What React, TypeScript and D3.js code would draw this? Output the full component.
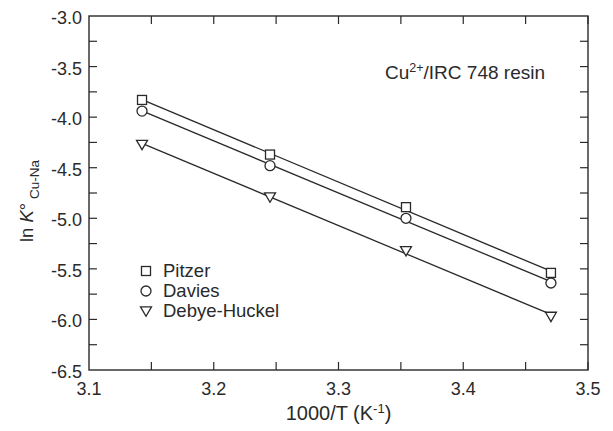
import React from "react";
import * as d3 from "d3";

const xValues = [3.1425, 3.2451, 3.3541, 3.4703];
const pitzer = [-3.83, -4.37, -4.89, -5.54];
const davies = [-3.94, -4.48, -5.0, -5.64];
const debyeHuckel = [-4.27, -4.79, -5.32, -5.97];
const seriesNames = ["Pitzer", "Davies", "Debye-Huckel"];
const xTickLabels = [3.1, 3.2, 3.3, 3.4, 3.5];
const yTickLabels = [-3.0, -3.5, -4.0, -4.5, -5.0, -5.5, -6.0, -6.5];

const W = 613, H = 431;
const M = { left: 89, right: 588, top: 16, bottom: 370 };
const FONT = "'Liberation Sans', Arial, Helvetica, sans-serif";
const INK = "#2a2a2a";

function fit(xs: number[], ys: number[]) {
  const mx = d3.mean(xs)!, my = d3.mean(ys)!;
  let sxy = 0, sxx = 0;
  xs.forEach((x, i) => { sxy += (x - mx) * (ys[i] - my); sxx += (x - mx) ** 2; });
  const b = sxy / sxx;
  return (x: number) => my + b * (x - mx);
}

function Marker({ kind, cx, cy }: { kind: number; cx: number; cy: number }) {
  const common = { fill: "white", stroke: INK, strokeWidth: 1.3 };
  if (kind === 0) return <rect x={cx - 4.5} y={cy - 4.5} width={9} height={9} {...common} />;
  if (kind === 1) return <circle cx={cx} cy={cy} r={5} {...common} />;
  const s = 5.5;
  return <path d={`M${cx - s},${cy - s * 0.75}L${cx + s},${cy - s * 0.75}L${cx},${cy + s * 0.95}Z`} {...common} />;
}

export default function App() {
  const x = d3.scaleLinear().domain([3.1, 3.5]).range([M.left, M.right]);
  const y = d3.scaleLinear().domain([-3.0, -6.5]).range([M.top, M.bottom]);
  const series = [pitzer, davies, debyeHuckel];
  const xMinor = d3.range(3.15, 3.5, 0.05);
  const yMinor = d3.range(-3.25, -6.5, -0.25);
  const tl = 8;
  const xmin = d3.min(xValues)!, xmax = d3.max(xValues)!;

  return (
    <svg width={W} height={H} style={{ position: "absolute", left: 0, top: 0, background: "white" }} fontFamily={FONT}>
      <rect x={M.left} y={M.top} width={M.right - M.left} height={M.bottom - M.top} fill="none" stroke={INK} strokeWidth={1.4} />
      {xMinor.map((v, i) => (
        <g key={"xt" + i} stroke={INK} strokeWidth={1.2}>
          <line x1={x(v)} x2={x(v)} y1={M.bottom} y2={M.bottom - tl} />
          <line x1={x(v)} x2={x(v)} y1={M.top} y2={M.top + tl} />
        </g>
      ))}
      {yMinor.map((v, i) => (
        <g key={"yt" + i} stroke={INK} strokeWidth={1.2}>
          <line x1={M.left} x2={M.left + tl} y1={y(v)} y2={y(v)} />
          <line x1={M.right} x2={M.right - tl} y1={y(v)} y2={y(v)} />
        </g>
      ))}
      {xTickLabels.map((v) => (
        <text key={"xl" + v} x={x(v)} y={M.bottom + 25} textAnchor="middle" fontSize={18} fill={INK}>{v.toFixed(1)}</text>
      ))}
      {yTickLabels.map((v) => (
        <text key={"yl" + v} x={M.left - 7} y={y(v) + 8} textAnchor="end" fontSize={18} fill={INK}>{v.toFixed(1)}</text>
      ))}
      <text x={(M.left + M.right) / 2} y={420} textAnchor="middle" fontSize={20} fill={INK}>
        1000/T (K<tspan dy={-7} fontSize={13}>-1</tspan><tspan dy={7}>)</tspan>
      </text>
      <text transform={`translate(33,${(M.top + M.bottom) / 2 + 8}) rotate(-90)`} textAnchor="middle" fontSize={18.5} fill={INK}>
        ln <tspan fontStyle="italic">K</tspan>°<tspan dy={6} fontSize={13.5}> Cu-Na</tspan>
      </text>
      <text x={385} y={79} fontSize={19} fill={INK}>
        Cu<tspan dy={-7} fontSize={12.5}>2+</tspan><tspan dy={7}>/IRC 748 resin</tspan>
      </text>
      {series.map((ys, si) => {
        const f = fit(xValues, ys);
        return (
          <line key={"fit" + si} x1={x(xmin)} y1={y(f(xmin))} x2={x(xmax)} y2={y(f(xmax))} stroke={INK} strokeWidth={1.3} />
        );
      })}
      {series.map((ys, si) =>
        ys.map((v, i) => <Marker key={`m${si}-${i}`} kind={si} cx={x(xValues[i])} cy={y(v)} />)
      )}
      {seriesNames.map((n, i) => (
        <g key={"lg" + i}>
          <Marker kind={i} cx={146} cy={271 + i * 20} />
          <text x={163} y={271 + i * 20 + 6} fontSize={18.5} fill={INK}>{n}</text>
        </g>
      ))}
    </svg>
  );
}
